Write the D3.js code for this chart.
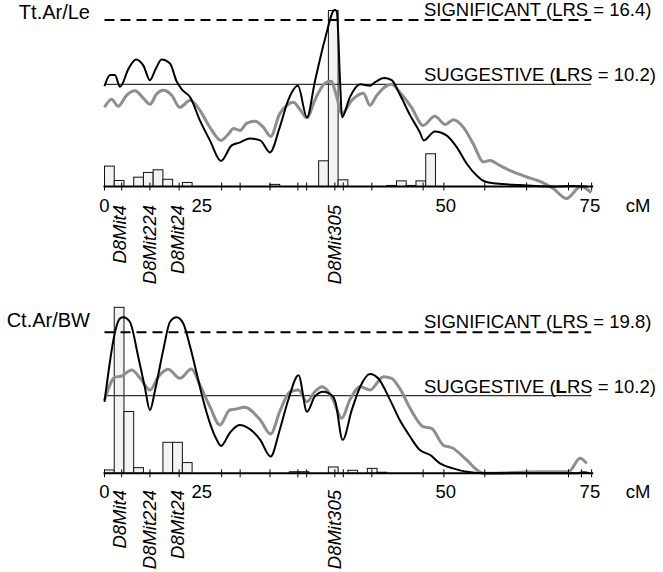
<!DOCTYPE html>
<html>
<head>
<meta charset="utf-8">
<script src="https://cdn.jsdelivr.net/npm/d3@7"></script>
<style>
  body { margin: 0; background: #fff; }
  svg { display: block; font-family: "Liberation Sans", Arial, sans-serif; }
</style>
</head>
<body>
<svg id="chart" width="663" height="572"></svg>
<script>
// marker map (cM) - ticks on the axis
var mapTicks = [0, 2.65, 7.0, 11.5, 18.05, 20.9, 25.5, 29.8, 31.15, 35.5, 36.8, 41.2, 49.1, 52.3, 58.6, 65.05, 71.5, 73.5, 75.07];
var tickLabels = ["0", "25", "50", "75"];
var tickLabelPos = [0, 15, 52.6, 74.8];
var markers = ["D8Mit4", "D8Mit224", "D8Mit24", "D8Mit305"];
var markerPos = [2.3, 6.9, 11.3, 35.5];
var binWidth = 1.5;

// Tt.Ar/Le
var ttSignificant = 16.4;
var ttSuggestive = 10.2;
var ttBlack = [[0,10.0],[0.85,11.1],[1.6,11.1],[2.4,9.95],[3.7,11.7],[4.85,12.6],[6.0,12.0],[7.0,10.6],[7.9,11.7],
  [8.8,12.6],[10.1,12.2],[11.1,10.5],[11.9,9.7],[13.2,8.9],[14.7,6.6],[16.25,4.6],[17.95,2.55],[19.6,4.1],[20.9,4.4],
  [22.4,4.8],[24.0,4.6],[25.5,3.4],[27.0,5.9],[28.3,8.6],[29.8,10.05],[31.2,6.9],[32.4,10.4],[33.95,14.5],[35.5,17.4],
  [35.8,17.2],[36.3,10.5],[36.6,6.9],[37.8,8.9],[39.4,10.2],[40.9,10.05],[41.7,10.4],[43.1,10.8],[44.25,10.6],[45.5,9.2],
  [47.1,7.1],[48.6,5.4],[49.2,4.6],[50.9,5.5],[52.7,5.1],[54.3,3.9],[55.8,2.3],[57.35,1.1],[58.6,0.5],[60.4,0.3],
  [64.0,0.15],[69.1,0],[72.2,0.05],[74.3,0]];
var ttGray = [[0,7.9],[1.1,8.7],[2.1,8.0],[3.4,9.1],[4.7,9.55],[6.0,8.8],[7.0,8.2],[8.0,9.2],[9.1,9.6],[10.35,9.1],
  [11.6,7.9],[13.2,8.6],[14.7,7.6],[16.25,5.9],[17.95,4.6],[19.3,5.4],[19.85,5.8],[20.9,5.6],[21.9,6.3],[23.2,6.5],
  [24.5,5.9],[25.6,5.0],[27.0,7.25],[28.1,8.1],[29.1,8.4],[30.1,7.7],[31.2,6.85],[32.4,8.6],[33.95,10.3],[34.9,10.5],
  [35.8,8.9],[36.55,7.25],[38.1,8.6],[39.9,9.3],[40.9,8.1],[41.9,9.05],[43.5,10.05],[44.25,10.2],[45.5,9.4],[47.3,7.9],
  [49.1,6.1],[50.9,7.0],[52.5,6.2],[53.75,6.65],[55.3,5.9],[56.8,4.3],[58.4,2.45],[59.4,2.6],[60.9,2.1],[63.0,1.45],
  [65.05,0.95],[67.1,0.5],[69.15,-0.2],[71.2,-1.2],[73.4,0.0],[75.0,-0.6]];
// bootstrap histogram: [bin index, frequency]
var ttBins = [[0,11.6],[1,3.4],[3,5.3],[4,8.0],[5,9.5],[6,4.1],[8,2.3],[17,1.2],[22,14.6],[23,100],[24,3.8],
  [29,0.6],[30,3.2],[31,0.6],[32,3.2],[33,18.6]];

// Ct.Ar/BW
var ctSignificant = 19.8;
var ctSuggestive = 10.2;
var ctBlack = [[0,9.4],[2.4,21.9],[2.9,22.07],[3.9,21.4],[5.2,16.1],[6.2,11.56],[7.0,8.3],[7.8,11.06],[9.05,17.1],
  [10.1,21.4],[11.1,22.07],[12.1,21.2],[13.2,17.6],[14.2,13.6],[15.2,9.65],[16.25,6.6],[17.3,4.4],[17.95,3.6],[19.3,5.3],
  [20.8,6.35],[22.4,5.8],[24.0,4.4],[25.6,2.2],[27.0,5.7],[28.3,9.6],[29.9,13.3],[31.2,8.1],[32.4,10.07],[33.7,10.8],
  [35.25,10.07],[35.6,9.3],[36.7,4.4],[38.1,8.3],[39.4,11.56],[40.9,13.5],[42.2,12.8],[44.0,9.65],[45.5,7.0],[47.1,4.8],
  [48.6,3.05],[50.2,2.4],[51.7,1.3],[53.7,0.65],[55.8,0.2],[58.9,0],[72.8,0],[73.8,0.13],[74.8,0]];
var ctGray = [[0,9.6],[1.6,12.99],[2.65,13.18],[4.2,14.09],[5.5,12.83],[7.0,11.06],[8.3,13.08],[9.8,14.2],[11.6,12.83],
  [13.4,14.24],[14.7,11.82],[16.25,8.76],[17.8,6.35],[19.3,8.32],[20.1,8.41],[21.6,8.67],[24.0,7.0],[25.6,5.17],[27.0,8.1],
  [28.6,10.8],[29.9,11.06],[31.2,9.4],[32.4,10.8],[33.5,11.56],[34.3,11.06],[35.25,9.63],[36.55,7.23],[37.8,9.63],
  [39.4,11.56],[40.9,11.06],[43.0,13.08],[44.25,12.83],[45.5,11.3],[47.1,8.54],[49.1,6.13],[50.4,5.9],[52.2,3.7],
  [53.7,3.3],[55.8,1.75],[57.8,0.2],[58.6,0],[67.1,0.2],[71.5,0.2],[73.3,1.97],[74.3,1.3]];
var ctBins = [[0,1.9],[1,94.3],[2,35.1],[3,3.2],[6,17.6],[7,17.6],[8,6.1],[19,0.9],[20,0.9],[23,3.6],[25,1.7],
  [27,2.8],[28,0.6]];

var svg = d3.select("#chart");
svg.append("rect").attr("width", 663).attr("height", 572).attr("fill", "#fff");

var x = d3.scaleLinear().domain([0, 75]).range([104.5, 591.2]);
var freq = d3.scaleLinear().domain([0, 100]).range([0, 176]);

function drawPanel(p) {
	var g = svg.append("g");
	var y = d3.scaleLinear().domain([0, p.suggestive, p.significant]).range(p.yRange);
	var base = y(0);

	// histogram bars
	g.selectAll("rect.bin").data(p.bins).enter().append("rect")
		.attr("x", function (d) { return x(d[0] * binWidth); })
		.attr("width", function (d) { return x((d[0] + 1) * binWidth) - x(d[0] * binWidth); })
		.attr("y", function (d) { return base - freq(d[1]); })
		.attr("height", function (d) { return freq(d[1]); })
		.attr("fill", "#f3f3f3")
		.attr("stroke", "#111")
		.attr("stroke-width", 1);

	// threshold lines
	g.append("line").attr("x1", x(0)).attr("x2", x(75))
		.attr("y1", y(p.significant)).attr("y2", y(p.significant))
		.attr("stroke", "#000").attr("stroke-width", 2).attr("stroke-dasharray", "10,6");
	g.append("line").attr("x1", x(0)).attr("x2", x(75))
		.attr("y1", y(p.suggestive)).attr("y2", y(p.suggestive))
		.attr("stroke", "#333").attr("stroke-width", 1.2);

	var line = d3.line()
		.x(function (d) { return x(d[0]); })
		.y(function (d) { return y(d[1]); })
		.curve(d3.curveMonotoneX);

	g.append("path").attr("d", line(p.gray))
		.attr("fill", "none").attr("stroke", "#8e8e8e").attr("stroke-width", 3).attr("stroke-linejoin", "round");
	g.append("path").attr("d", line(p.black))
		.attr("fill", "none").attr("stroke", "#000").attr("stroke-width", 2).attr("stroke-linejoin", "round");

	// axis
	g.append("line").attr("x1", x(0) - 1).attr("x2", x(75) + 2)
		.attr("y1", base).attr("y2", base)
		.attr("stroke", "#000").attr("stroke-width", 2);
	g.selectAll("line.tick").data(mapTicks).enter().append("line")
		.attr("x1", function (d) { return x(d); }).attr("x2", function (d) { return x(d); })
		.attr("y1", base - 4).attr("y2", base + 4)
		.attr("stroke", "#000").attr("stroke-width", 1);

	g.selectAll("text.tl").data(tickLabels).enter().append("text")
		.attr("x", function (d, i) { return x(tickLabelPos[i]); })
		.attr("y", base + 25)
		.attr("text-anchor", "middle")
		.attr("font-size", 18.5)
		.text(function (d) { return d; });
	g.append("text").attr("x", 638).attr("y", base + 25)
		.attr("text-anchor", "middle").attr("font-size", 18.5).text("cM");

	g.selectAll("text.mk").data(markers).enter().append("text")
		.attr("transform", function (d, i) {
			return "translate(" + (x(markerPos[i]) + 6.5) + "," + (base + p.markerOffset) + ") rotate(-90)";
		})
		.attr("text-anchor", "end")
		.attr("font-size", 18.5)
		.attr("font-style", "italic")
		.text(function (d) { return d; });

	// labels
	g.append("text").attr("x", 90).attr("y", p.titleY)
		.attr("text-anchor", "end").attr("font-size", 20).text(p.title);
	g.append("text").attr("x", 424).attr("y", y(p.significant) - 4.5)
		.attr("font-size", 18.5).text("SIGNIFICANT (LRS = " + p.significant + ")");
	var s = g.append("text").attr("x", 424).attr("y", y(p.suggestive) - 3)
		.attr("font-size", 18.5);
	s.append("tspan").text("SUGGESTIVE (");
	s.append("tspan").attr("font-weight", "bold").text("L");
	s.append("tspan").text("RS = " + p.suggestive.toFixed(1) + ")");
}

drawPanel({ title: "Tt.Ar/Le", titleY: 18.5, significant: ttSignificant, suggestive: ttSuggestive,
	yRange: [186.5, 84.3, 20], black: ttBlack, gray: ttGray, bins: ttBins, markerOffset: 18.5 });
drawPanel({ title: "Ct.Ar/BW", titleY: 327, significant: ctSignificant, suggestive: ctSuggestive,
	yRange: [473.3, 395.7, 332.3], black: ctBlack, gray: ctGray, bins: ctBins, markerOffset: 16.7 });
</script>
</body>
</html>
